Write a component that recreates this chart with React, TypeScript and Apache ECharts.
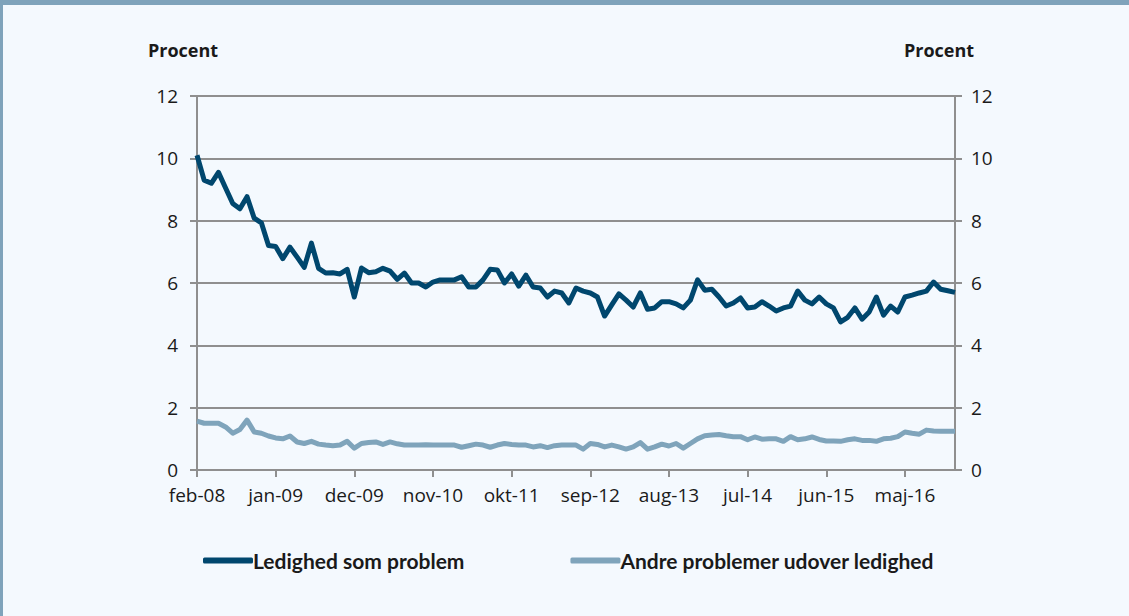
import React, { useEffect, useRef } from "react";
import * as echarts from "echarts";

const MONTHS = ["jan", "feb", "mar", "apr", "maj", "jun", "jul", "aug", "sep", "okt", "nov", "dec"];
const START_YEAR = 2008;
const START_MONTH = 1; // feb
const N_POINTS = 107; // feb-08 .. dec-16

const categories: string[] = [];
for (let i = 0; i < N_POINTS; i++) {
  const m = (START_MONTH + i) % 12;
  const y = START_YEAR + Math.floor((START_MONTH + i) / 12);
  categories.push(MONTHS[m] + "-" + String(y % 100).padStart(2, "0"));
}

const ledighed = [
  10.1, 9.3, 9.2, 9.55, 9.05, 8.55, 8.38, 8.77, 8.08, 7.93,
  7.2, 7.17, 6.78, 7.15, 6.83, 6.5, 7.28, 6.47, 6.32, 6.33,
  6.29, 6.44, 5.55, 6.48, 6.33, 6.36, 6.47, 6.38, 6.12, 6.32,
  6.0, 6.0, 5.87, 6.03, 6.1, 6.1, 6.1, 6.2, 5.87, 5.87,
  6.1, 6.44, 6.42, 6.0, 6.29, 5.9, 6.25, 5.87, 5.84, 5.55,
  5.74, 5.68, 5.36, 5.84, 5.74, 5.68, 5.55, 4.94, 5.3, 5.65,
  5.45, 5.23, 5.68, 5.16, 5.2, 5.4, 5.4, 5.33, 5.2, 5.45,
  6.1, 5.77, 5.8, 5.55, 5.26, 5.36, 5.52, 5.2, 5.23, 5.4,
  5.26, 5.1, 5.2, 5.26, 5.74, 5.45, 5.33, 5.55, 5.33, 5.2,
  4.75, 4.9, 5.2, 4.84, 5.07, 5.55, 4.97, 5.26, 5.07, 5.55,
  5.61, 5.68, 5.74, 6.03, 5.8, 5.75, 5.7,
];

const andre = [
  1.57, 1.5, 1.5, 1.5, 1.38, 1.18, 1.3, 1.6, 1.22, 1.18,
  1.09, 1.03, 1.0, 1.09, 0.9, 0.85, 0.92, 0.83, 0.8, 0.78,
  0.8, 0.92, 0.7, 0.85, 0.88, 0.9, 0.82, 0.9, 0.84, 0.8,
  0.8, 0.8, 0.81, 0.8, 0.8, 0.8, 0.8, 0.73, 0.78, 0.83,
  0.8, 0.73, 0.8, 0.85, 0.82, 0.8, 0.8, 0.74, 0.78, 0.72,
  0.78, 0.8, 0.8, 0.8, 0.67, 0.85, 0.82, 0.74, 0.8, 0.74,
  0.67, 0.74, 0.88, 0.67, 0.74, 0.83, 0.77, 0.85, 0.7, 0.85,
  1.0, 1.1, 1.12, 1.14, 1.1, 1.07, 1.07, 0.97, 1.06, 0.99,
  1.0, 1.0, 0.92, 1.07, 0.97, 1.0, 1.06, 0.98, 0.93, 0.93,
  0.92, 0.97, 1.0, 0.95, 0.95, 0.92, 1.0, 1.02, 1.07, 1.22,
  1.18, 1.15, 1.28, 1.25, 1.24, 1.24, 1.24,
];

const SERIES_NAMES = ["Ledighed som problem", "Andre problemer udover ledighed"];
const Y_MIN = 0;
const Y_MAX = 12;
const Y_STEP = 2;
const AXIS_TITLE = "Procent";

const DARK = "#00476e";
const LIGHT = "#7fa4bb";
const GRID = "#8f8f8f";
const BG = "#f4f9fe";
const FRAME = "#7fa3bb";
const TEXT = "#1a1a1a";

export default function App() {
  const ref = useRef<HTMLDivElement>(null);
  useEffect(() => {
    if (!ref.current) return;
    const chart = echarts.init(ref.current, null, { renderer: "svg" });
    const yAxisCommon = {
      type: "value" as const,
      min: Y_MIN,
      max: Y_MAX,
      interval: Y_STEP,
      axisLine: { show: true, lineStyle: { color: GRID, width: 2 } },
      axisTick: { show: true, length: 7, lineStyle: { color: GRID, width: 2 } },
      axisLabel: { color: TEXT, fontSize: 19, fontFamily: "Open Sans", margin: 19 },
    };
    chart.setOption({
      animation: false,
      backgroundColor: BG,
      grid: { left: 197, right: 174, top: 96, bottom: 146, containLabel: false },
      graphic: [
        { type: "rect", left: 0, top: 0, shape: { width: 3, height: 616 }, style: { fill: FRAME } },
        { type: "rect", left: 0, top: 0, shape: { width: 1129, height: 5 }, style: { fill: FRAME } },
        {
          type: "text",
          x: 183,
          y: 50,
          style: { text: AXIS_TITLE, fill: TEXT, font: "bold 18px 'Open Sans'", align: "center", verticalAlign: "middle" },
        },
        {
          type: "text",
          x: 939,
          y: 50,
          style: { text: AXIS_TITLE, fill: TEXT, font: "bold 18px 'Open Sans'", align: "center", verticalAlign: "middle" },
        },
      ],
      legend: {
        left: 198,
        top: 545,
        itemWidth: 50,
        itemHeight: 6,
        itemGap: 106,
        icon: "roundRect",
        textStyle: { color: TEXT, fontSize: 21, fontWeight: "bold", fontFamily: "Lato", padding: [0, 0, 0, -5] },
        data: SERIES_NAMES,
      },
      xAxis: {
        type: "category",
        data: categories,
        boundaryGap: false,
        axisLine: { show: true, lineStyle: { color: GRID, width: 2 } },
        axisTick: { show: true, interval: 10, length: 7, lineStyle: { color: GRID, width: 2 } },
        axisLabel: { interval: 10, color: TEXT, fontSize: 19, fontFamily: "Open Sans", margin: 15 },
        splitLine: { show: false },
      },
      yAxis: [
        {
          ...yAxisCommon,
          position: "left",
          splitLine: { show: true, lineStyle: { color: GRID, width: 2 } },
        },
        {
          ...yAxisCommon,
          position: "right",
          axisLabel: { ...yAxisCommon.axisLabel, margin: 16 },
          splitLine: { show: false },
        },
      ],
      series: [
        {
          name: SERIES_NAMES[0],
          type: "line",
          data: ledighed,
          yAxisIndex: 0,
          symbol: "none",
          lineStyle: { color: DARK, width: 5, join: "round" },
          itemStyle: { color: DARK },
          z: 3,
        },
        {
          name: SERIES_NAMES[1],
          type: "line",
          data: andre,
          yAxisIndex: 0,
          symbol: "none",
          lineStyle: { color: LIGHT, width: 5, join: "round" },
          itemStyle: { color: LIGHT },
          z: 2,
        },
      ],
    });
    return () => chart.dispose();
  }, []);
  return (
    <div
      ref={ref}
      style={{ position: "fixed", left: 0, top: 0, width: 1129, height: 616 }}
    />
  );
}
